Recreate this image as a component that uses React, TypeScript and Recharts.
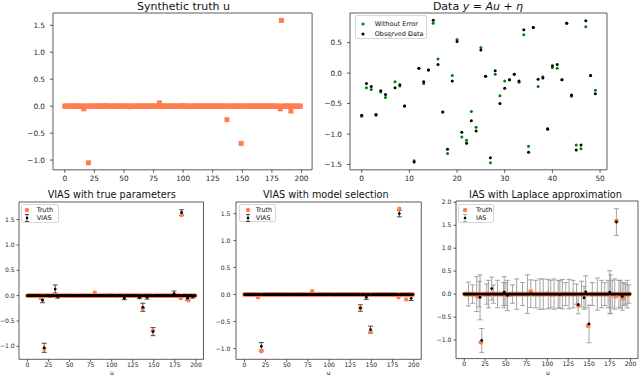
import React from "react";
import { ScatterChart, Scatter, XAxis, YAxis, ErrorBar, ReferenceArea } from "recharts";

const FONT = "'DejaVu Sans', sans-serif";
const CORAL = "#ff7f50";
const N = 200;

// synthetic truth u: only the nonzero entries, the rest are 0
const truthIdx = [16, 20, 34, 55, 80, 100, 105, 137, 149, 182, 183, 191];
const truthVal = [-0.05, -1.05, 0.01, -0.01, 0.06, 0.01, -0.01, -0.25, -0.69, -0.05, 1.59, -0.09];

// y = Au + eta, 50 measurements
const cleanData = [
  -0.71, -0.24, -0.27, -0.69, -0.31, -0.4, 0.61, -0.14, -0.21, -0.54,
  0.65, -1.44, 0.08, -0.17, 0.05, 0.82, 0.23, -0.64, -1.32, -0.04,
  0.55, -1.05, -1.1, -0.63, -0.89, 0.42, -0.05, -1.47, -0.02, -0.37,
  -0.13, -0.11, -0.02, -0.15, 0.63, -1.2, 0.75, -0.22, -0.06, -0.91,
  0.09, 0.08, -0.11, 0.82, -0.38, -1.18, -1.24, 0.76, -0.04, -0.28,
];
const observedData = [
  -0.69, -0.17, -0.22, -0.68, -0.29, -0.35, 0.6, -0.24, -0.19, -0.54,
  0.63, -1.46, 0.08, -0.14, 0.05, 0.87, 0.14, -0.64, -1.25, -0.13,
  0.52, -0.97, -1.15, -0.78, -0.95, 0.38, -0.05, -1.39, 0.04, -0.5,
  -0.25, -0.11, -0.02, -0.13, 0.71, -1.3, 0.75, -0.1, -0.08, -0.92,
  0.12, 0.14, -0.11, 0.82, -0.36, -1.26, -1.18, 0.86, -0.04, -0.34,
];

// VIAS with true parameters (nonzero estimates / error bars)
const viasTrueIdx = [18, 20, 27, 33, 36, 115, 133, 137, 142, 149, 174, 183, 190, 196];
const viasTrueVal = [-0.09, -1.03, -0.01, 0.13, -0.02, -0.05, -0.03, -0.23, -0.03, -0.71, 0.04, 1.64, -0.05, -0.02];
const viasTrueErr = [0.05, 0.09, 0.02, 0.08, 0.03, 0.03, 0.03, 0.08, 0.04, 0.08, 0.05, 0.055, 0.04, 0.03];

// VIAS with model selection
const viasSelIdx = [20, 137, 144, 149, 183, 197];
const viasSelVal = [-0.96, -0.25, -0.05, -0.65, 1.5, -0.07];
const viasSelErr = [0.07, 0.06, 0.04, 0.065, 0.06, 0.04];

// IAS with Laplace approximation
const iasIdx = [
  5, 10, 15, 18, 19, 21, 27, 29, 33, 35, 40, 47, 48, 50, 52, 58, 63, 70, 76, 80,
  86, 91, 95, 101, 104, 108, 113, 115, 118, 122, 126, 131, 135, 137, 141, 144, 146, 150, 154, 160,
  165, 169, 173, 175, 176, 178, 181, 183, 186, 188, 190, 192, 194, 196, 198,
];
const iasVal = [
  0, 0, 0, 0, -0.07, -1.01, 0, 0, 0.12, 0, 0, 0, 0.04, 0, -0.03, 0, 0, 0, 0, 0.01,
  0, 0, 0, 0, 0, 0, 0, -0.01, 0, 0, 0, 0, 0, -0.23, 0, -0.08, 0.05, -0.65, 0, 0,
  0, 0, 0, 0.04, 0, 0, 0, 1.57, 0, 0, -0.05, 0, 0, 0, 0,
];
const iasErr = [
  0.26, 0.2, 0.38, 0.28, 0.49, 0.26, 0.22, 0.3, 0.25, 0.2, 0.3, 0.25, 0.34, 0.25, 0.33, 0.2, 0.33, 0.25, 0.42, 0.3,
  0.3, 0.33, 0.33, 0.32, 0.3, 0.33, 0.3, 0.3, 0.32, 0.25, 0.32, 0.3, 0.22, 0.2, 0.28, 0.25, 0.35, 0.41, 0.25, 0.35,
  0.3, 0.25, 0.3, 0.47, 0.42, 0.3, 0.33, 0.29, 0.3, 0.3, 0.3, 0.25, 0.22, 0.3, 0.2,
];

const uTicks = [0, 25, 50, 75, 100, 125, 150, 175, 200];
const dataTicks = [0, 10, 20, 30, 40, 50];
const truthTicks = [-1, -0.5, 0, 0.5, 1, 1.5];
const dataYTicks = [-1.5, -1, -0.5, 0, 0.5];
const iasTicks = [-1, -0.5, 0, 0.5, 1, 1.5, 2];

function spread(idx: number[], val: number[]) {
  const out = new Array(N).fill(0);
  idx.forEach((k, i) => {
    out[k] = val[i];
  });
  return out;
}

function estimates(idx: number[], val: number[], err: number[]) {
  const v = spread(idx, val);
  const e = spread(idx, err);
  return v.map((y, x) => ({ x, y, err: e[x] }));
}

const truthRows = spread(truthIdx, truthVal).map((y, x) => ({ x, y }));
const cleanRows = cleanData.map((y, x) => ({ x, y }));
const observedRows = observedData.map((y, x) => ({ x, y }));
const viasTrueRows = estimates(viasTrueIdx, viasTrueVal, viasTrueErr);
const viasSelRows = estimates(viasSelIdx, viasSelVal, viasSelErr);
const iasRows = estimates(iasIdx, iasVal, iasErr);

const fmtY = (v: number) => v.toFixed(1).replace("-", "\u2212");

const square = (color: string, s: number) => (p: any) => (
  <rect x={p.cx - s / 2} y={p.cy - s / 2} width={s} height={s} fill={color} />
);
const dot = (color: string, r: number) => (p: any) => <circle cx={p.cx} cy={p.cy} r={r} fill={color} />;

type PanelProps = {
  box: [number, number, number, number];
  xDomain: [number, number];
  yDomain: [number, number];
  xTicks: number[];
  yTicks: number[];
  font: number;
  tickLen: number;
  yGap: number;
  xGap: number;
  children: React.ReactNode;
};

function Panel({ box, xDomain, yDomain, xTicks, yTicks, font, tickLen, yGap, xGap, children }: PanelProps) {
  const [x0, y0, x1, y1] = box;
  const yw = 36;
  const xh = 16;
  const pad = 3;
  const tickStyle = { fontSize: font, fill: "#262626", fontFamily: FONT };
  const line = { stroke: "#333", strokeWidth: 0.8 };
  return (
    <div style={{ position: "absolute", left: x0 - yw, top: y0 - pad }}>
      <ScatterChart
        width={x1 - x0 + yw + pad}
        height={y1 - y0 + pad + xh}
        margin={{ top: pad, right: pad, bottom: 0, left: 0 }}
      >
        <XAxis
          type="number"
          dataKey="x"
          domain={xDomain}
          ticks={xTicks}
          allowDataOverflow
          interval={0}
          height={xh}
          tickSize={tickLen}
          tickMargin={xGap}
          axisLine={false}
          tickLine={line}
          tick={tickStyle}
        />
        <YAxis
          type="number"
          dataKey="y"
          domain={yDomain}
          ticks={yTicks}
          allowDataOverflow
          interval={0}
          width={yw}
          tickSize={tickLen}
          tickMargin={yGap}
          axisLine={false}
          tickLine={line}
          tick={tickStyle}
          tickFormatter={fmtY}
        />
        <ReferenceArea
          x1={xDomain[0]}
          x2={xDomain[1]}
          y1={yDomain[0]}
          y2={yDomain[1]}
          fill="none"
          stroke="#333"
          strokeWidth={0.8}
        />
        {children}
      </ScatterChart>
    </div>
  );
}

function Title({ cx, cy, size, children }: { cx: number; cy: number; size: number; children: React.ReactNode }) {
  return (
    <div
      style={{
        position: "absolute",
        left: cx - 150,
        width: 300,
        top: cy - size / 2,
        lineHeight: `${size}px`,
        fontSize: size,
        fontFamily: FONT,
        textAlign: "center",
        color: "#111",
        whiteSpace: "nowrap",
      }}
    >
      {children}
    </div>
  );
}

type LegendItem = { label: string; icon: React.ReactNode };

function LegendBox(props: {
  left: number;
  top: number;
  width: number;
  height: number;
  padLeft: number;
  padTop: number;
  rowH: number;
  gap: number;
  items: LegendItem[];
}) {
  const { left, top, width, height, padLeft, padTop, rowH, gap, items } = props;
  return (
    <div
      style={{
        position: "absolute",
        left,
        top,
        width,
        height,
        boxSizing: "border-box",
        border: "1px solid #d6d6d6",
        borderRadius: 2,
        background: "rgba(255,255,255,0.8)",
        paddingLeft: padLeft,
        paddingTop: padTop,
        fontFamily: FONT,
        fontSize: 6.5,
        color: "#111",
      }}
    >
      {items.map((it) => (
        <div key={it.label} style={{ display: "flex", alignItems: "center", height: rowH, whiteSpace: "nowrap" }}>
          <svg width={8} height={8} style={{ marginRight: gap, flex: "none" }}>
            {it.icon}
          </svg>
          <span>{it.label}</span>
        </div>
      ))}
    </div>
  );
}

const errIcon = (color: string) => (
  <g>
    <line x1={4} y1={0.5} x2={4} y2={7.5} stroke={color} strokeWidth={0.8} />
    <line x1={2} y1={0.5} x2={6} y2={0.5} stroke={color} strokeWidth={0.8} />
    <line x1={2} y1={7.5} x2={6} y2={7.5} stroke={color} strokeWidth={0.8} />
    <circle cx={4} cy={4} r={1.3} fill="#000" />
  </g>
);
const truthIcon = <circle cx={4} cy={4} r={2.2} fill={CORAL} />;

const uDomain: [number, number] = [-9.95, 208.95];

export default function App() {
  const bottomFont = 6.1;
  return (
    <div
      style={{
        position: "absolute",
        left: 0,
        top: 0,
        width: 640,
        height: 375,
        background: "#fff",
        overflow: "hidden",
      }}
    >
      {/* top left */}
      <Title cx={183.5} cy={6} size={11}>
        Synthetic truth u
      </Title>
      <Panel
        box={[53.2, 12.7, 312.3, 169.5]}
        xDomain={uDomain}
        yDomain={[-1.18, 1.728]}
        xTicks={uTicks}
        yTicks={truthTicks}
        font={7.3}
        tickLen={3}
        yGap={5}
        xGap={3.5}
      >
        <Scatter data={truthRows} isAnimationActive={false} shape={square(CORAL, 5)} />
      </Panel>

      {/* top right */}
      <Title cx={478} cy={6} size={11}>
        Data <i>y</i> = <i>Au</i> + <i>η</i>
      </Title>
      <Panel
        box={[349.5, 12.7, 606.5, 169.5]}
        xDomain={[-2.45, 51.45]}
        yDomain={[-1.587, 0.987]}
        xTicks={dataTicks}
        yTicks={dataYTicks}
        font={7.3}
        tickLen={3}
        yGap={5}
        xGap={3.5}
      >
        <Scatter data={cleanRows} isAnimationActive={false} shape={dot("#008000", 1.5)} />
        <Scatter data={observedRows} isAnimationActive={false} shape={dot("#000", 1.5)} />
      </Panel>
      <LegendBox
        left={355}
        top={15}
        width={72}
        height={24}
        padLeft={3}
        padTop={2.5}
        rowH={10.5}
        gap={7.7}
        items={[
          { label: "Without Error", icon: <circle cx={4} cy={4} r={1.5} fill="#008000" /> },
          { label: "Observed Data", icon: <circle cx={4} cy={4} r={1.5} fill="#000" /> },
        ]}
      />

      {/* bottom left */}
      <Title cx={111.7} cy={195} size={9.7}>
        VIAS with true parameters
      </Title>
      <Panel
        box={[19.3, 201.7, 203.8, 359]}
        xDomain={uDomain}
        yDomain={[-1.256, 1.847]}
        xTicks={uTicks}
        yTicks={truthTicks}
        font={bottomFont}
        tickLen={2.5}
        yGap={1.8}
        xGap={1}
      >
        <Scatter data={truthRows} isAnimationActive={false} shape={dot(CORAL, 2.2)} />
        <Scatter data={viasTrueRows} isAnimationActive={false} shape={dot("#000", 1.4)}>
          <ErrorBar dataKey="err" direction="y" width={2.5} stroke="#222" strokeWidth={0.8} />
        </Scatter>
      </Panel>
      <LegendBox
        left={20.7}
        top={204}
        width={38.6}
        height={18.7}
        padLeft={1.6}
        padTop={0.7}
        rowH={8}
        gap={5.4}
        items={[
          { label: "Truth", icon: truthIcon },
          { label: "VIAS", icon: errIcon("#222") },
        ]}
      />
      <Title cx={112} cy={372.6} size={6}>
        u
      </Title>

      {/* bottom middle */}
      <Title cx={325.8} cy={195} size={9.7}>
        VIAS with model selection
      </Title>
      <Panel
        box={[236, 201.7, 421.3, 359]}
        xDomain={uDomain}
        yDomain={[-1.2, 1.715]}
        xTicks={uTicks}
        yTicks={truthTicks}
        font={bottomFont}
        tickLen={2.5}
        yGap={3}
        xGap={1}
      >
        <Scatter data={truthRows} isAnimationActive={false} shape={dot(CORAL, 2.2)} />
        <Scatter data={viasSelRows} isAnimationActive={false} shape={dot("#000", 1.4)}>
          <ErrorBar dataKey="err" direction="y" width={2.5} stroke="#222" strokeWidth={0.8} />
        </Scatter>
      </Panel>
      <LegendBox
        left={239.3}
        top={204}
        width={36.7}
        height={17.7}
        padLeft={3.4}
        padTop={0.5}
        rowH={8}
        gap={4}
        items={[
          { label: "Truth", icon: truthIcon },
          { label: "VIAS", icon: errIcon("#222") },
        ]}
      />
      <Title cx={328.3} cy={372.6} size={6}>
        u
      </Title>

      {/* bottom right */}
      <Title cx={545.5} cy={195} size={9.7}>
        IAS with Laplace approximation
      </Title>
      <Panel
        box={[456, 200.7, 638, 358.3]}
        xDomain={uDomain}
        yDomain={[-1.405, 2.028]}
        xTicks={uTicks}
        yTicks={iasTicks}
        font={bottomFont}
        tickLen={2.5}
        yGap={2}
        xGap={1}
      >
        <Scatter data={truthRows} isAnimationActive={false} shape={dot(CORAL, 2.4)} />
        <Scatter data={iasRows} isAnimationActive={false} shape={dot("#000", 1.4)}>
          <ErrorBar dataKey="err" direction="y" width={2.5} stroke="#999" strokeWidth={0.9} />
        </Scatter>
      </Panel>
      <LegendBox
        left={457.7}
        top={204}
        width={36.6}
        height={18.7}
        padLeft={2.3}
        padTop={0.7}
        rowH={8}
        gap={7}
        items={[
          { label: "Truth", icon: truthIcon },
          { label: "IAS", icon: errIcon("#999") },
        ]}
      />
      <Title cx={548} cy={372.6} size={6}>
        u
      </Title>
    </div>
  );
}
